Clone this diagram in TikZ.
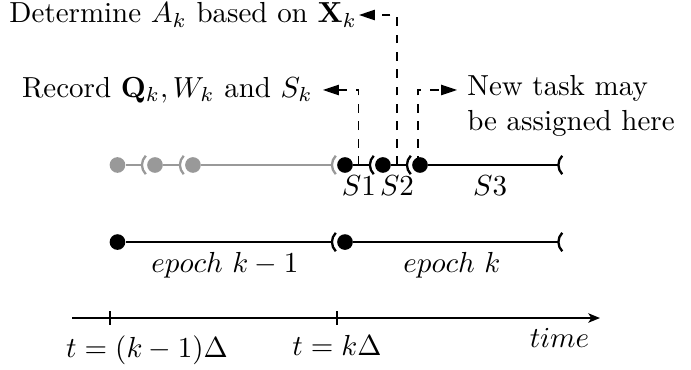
\documentclass[tikz,border=0pt]{standalone}
\usepackage{amsmath,amssymb}
\usetikzlibrary{arrows.meta}
\newcommand{\opn}[2][black]{\draw[thick,#1] (#2.center) ++(135:4.5pt) arc[start angle=135, end angle=225, radius=4.5pt];}

\begin{document}
\begin{tikzpicture}[>={Triangle[length=5.5pt,width=3.6pt]}, dot/.style={circle, fill=black, inner sep=0pt, minimum size=5.4pt}, gdot/.style={dot, fill=black!40}, seg/.style={thick}, gseg/.style={thick, black!40}, lead/.style={dashed, ->}]
	\useasboundingbox (0,0) rectangle (8.376,4.473);
	% slots inside an epoch
	\node[gdot] (g1) at (1.424,2.473) {};
	\node[gdot] (g2) at (1.879,2.473) {};
	\node[gdot] (g3) at (2.339,2.473) {};
	\node[dot] (s1) at (4.182,2.473) {};
	\node[dot] (s2) at (4.642,2.473) {};
	\node[dot] (s3) at (5.091,2.473) {};
	\coordinate (s4) at (6.927,2.473);
	\draw[gseg] (g1) -- ([xshift=-4.5pt]g2.center);
	\draw[gseg] (g2) -- ([xshift=-4.5pt]g3.center);
	\draw[gseg] (g3) -- ([xshift=-4.5pt]s1.center);
	\draw[seg] (s1) -- ([xshift=-4.5pt]s2.center);
	\draw[seg] (s2) -- ([xshift=-4.5pt]s3.center);
	\draw[seg] (s3) -- ([xshift=-4.5pt]s4.center);
	\opn[black!40]{g2} \opn[black!40]{g3} \opn[black!40]{s1}
	\opn{s2} \opn{s3} \opn{s4}
	\coordinate (m1) at (4.350,2.473);
	\coordinate (m2) at (4.812,2.473);
	\coordinate (m3) at (5.067,2.473);
	\coordinate (m4) at (5.940,2.473);
	\node[below] (l1) at (m1) {$S1$};
	\node[below] (l2) at (m2) {$S2$};
	\node[below] (l3) at (m4) {$S3$};
	% what happens in the slots
	\node[anchor=east, inner xsep=0.5pt] (det) at (4.352,4.291) {Determine $A_k$ based on $\mathbf{X}_k$};
	\node[anchor=east] (rec) at (3.915,3.382) {Record $\mathbf{Q}_k, W_k$ and $S_k$};
	\node[anchor=north west, align=left] (newt) at (5.540,3.682) {New task may\\be assigned here};
	\draw[lead] (m1) |- (rec.east);
	\draw[lead] (m2) |- (det.east);
	\draw[lead] (m3) |- (rec.east -| newt.west);
	% epochs
	\node[dot] (e1) at (1.424,1.539) {};
	\node[dot] (e2) at (4.182,1.539) {};
	\coordinate (e3) at (6.927,1.539);
	\draw[seg] (e1) -- ([xshift=-4.5pt]e2.center);
	\draw[seg] (e2) -- ([xshift=-4.5pt]e3.center);
	\opn{e2} \opn{e3}
	\node[below] (p1) at (2.727,1.539) {$epoch\ k-1$};
	\node[below] (p2) at (5.479,1.539) {$epoch\ k$};
	% time axis
	\coordinate (a0) at (0.873,0.618);
	\coordinate (a1) at (7.273,0.618);
	\coordinate (t1) at (1.333,0.618);
	\coordinate (t2) at (4.085,0.618);
	\draw[thick, -{Stealth[length=4pt,width=3.2pt,inset=1pt]}] (a0) -- (a1) node[below left] (tm) {$time$};
	\draw[semithick] ([yshift=2.4pt]t1) -- ([yshift=-2.4pt]t1);
	\draw[semithick] ([yshift=2.4pt]t2) -- ([yshift=-2.4pt]t2);
	\node[below] (q1) at (1.782,0.533) {$t=(k-1)\Delta$};
	\node[below] (q2) at ([yshift=-2.4pt]t2) {$t=k\Delta$};
\end{tikzpicture}
\end{document}
